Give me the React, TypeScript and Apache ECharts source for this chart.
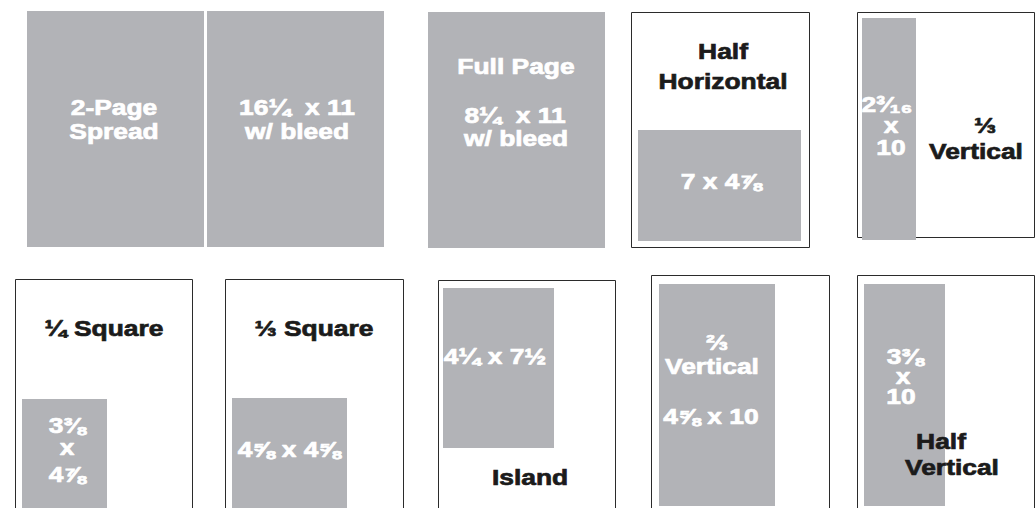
import React, { useEffect, useRef } from "react";
import * as echarts from "echarts";

// Ad formats shown on the sheet
const adNames = ["2-Page Spread", "Full Page", "Half Horizontal", "⅓ Vertical", "¼ Square", "⅓ Square", "Island", "⅔ Vertical", "Half Vertical"];
const adSizes = ["16¼ x 11 w/ bleed", "8¼ x 11 w/ bleed", "7 x 4⅞", "2³⁄₁₆ x 10", "3⅜ x 4⅞", "4⅝ x 4⅝", "4¼ x 7½", "4⅝ x 10", "3⅜ x 10"];

// Page outlines (sheet units): [x0, y0, x1, y1]
const pageFrames = [
  [631, 12, 809, 247],
  [857, 12, 1034, 237],
  [15, 279, 192, 530],
  [225, 279, 403, 530],
  [438, 280, 615, 530],
  [651, 275, 829, 530],
  [857, 275, 1034, 530],
];

// Ad areas (sheet units): [x0, y0, x1, y1]
const adBlocks = [
  [27, 11, 204, 247],
  [207, 11, 384, 247],
  [428, 12, 605, 248],
  [638, 130, 801, 241],
  [862, 18, 916, 240],
  [22, 399, 107, 530],
  [232, 398, 347, 530],
  [443, 288, 554, 448],
  [659, 284, 775, 506],
  [864, 284, 945, 506],
];

// Label lines: text, x, y, tone (1 = white on grey, 0 = black)
const labelTexts = [
  "2-Page", "Spread", "16¼  x 11", "w/ bleed",
  "Full Page", "8¼  x 11", "w/ bleed",
  "Half", "Horizontal", "7 x 4⅞",
  "2³⁄₁₆", "x", "10", "⅓", "Vertical",
  "¼ Square", "3⅜", "x", "4⅞",
  "⅓ Square", "4⅝ x 4⅝",
  "4¼ x 7½", "Island",
  "⅔", "Vertical", "4⅝ x 10",
  "3⅜", "x", "10", "Half", "Vertical",
];
const labelX = [
  114, 114, 297, 297,
  516, 515, 516,
  723, 723, 721,
  887, 891, 891, 985, 976,
  104, 67, 67, 67,
  314, 289,
  495, 530,
  717, 712, 711,
  905, 903, 901, 941, 952,
];
const labelY = [
  107, 131, 107, 131,
  66, 115, 138,
  51, 81, 181,
  104, 125, 147, 125, 151,
  328, 425, 447, 474,
  328, 449,
  356, 477,
  342, 366, 416,
  356, 376, 396, 441, 467,
];
const labelTone = [
  1, 1, 1, 1,
  1, 1, 1,
  0, 0, 1,
  1, 1, 1, 0, 0,
  0, 1, 1, 1,
  0, 1,
  1, 0,
  1, 1, 1,
  1, 1, 1, 0, 0,
];

const GREY = "#b2b3b7";
const FRAME = "#2b2b2b";
const INK = "#1b1b1b";
const FONT = 'bold 22px "Liberation Sans", Arial, Helvetica, sans-serif';

export default function App() {
  const ref = useRef<HTMLDivElement>(null);

  useEffect(() => {
    document.body.style.margin = "0";
    if (!ref.current) return;
    const chart = echarts.init(ref.current, undefined, { renderer: "svg" });

    const option: any = {
      animation: false,
      backgroundColor: "#ffffff",
      tooltip: { show: false },
      grid: { left: 0, right: 0, top: 0, bottom: 0 },
      xAxis: { type: "value", min: 0, max: 1036, show: false, splitLine: { show: false } },
      yAxis: { type: "value", min: 0, max: 508, inverse: true, show: false, splitLine: { show: false } },
      series: [
        {
          type: "custom",
          name: "pages",
          z: 1,
          clip: false,
          silent: true,
          data: pageFrames,
          renderItem: (params: any, api: any) => {
            const p0 = api.coord([api.value(0), api.value(1)]);
            const p1 = api.coord([api.value(2), api.value(3)]);
            return {
              type: "rect",
              shape: { x: p0[0] + 0.5, y: p0[1] + 0.5, width: p1[0] - p0[0], height: p1[1] - p0[1] },
              style: { fill: "#ffffff", stroke: FRAME, lineWidth: 1 },
            };
          },
        },
        {
          type: "custom",
          name: "ads",
          z: 2,
          clip: false,
          silent: true,
          data: adBlocks,
          renderItem: (params: any, api: any) => {
            const p0 = api.coord([api.value(0), api.value(1)]);
            const p1 = api.coord([api.value(2), api.value(3)]);
            return {
              type: "rect",
              shape: { x: p0[0], y: p0[1], width: p1[0] - p0[0], height: p1[1] - p0[1] },
              style: { fill: GREY },
            };
          },
        },
        {
          type: "custom",
          name: "labels",
          z: 3,
          clip: false,
          silent: true,
          data: labelTexts.map((t, i) => ({ name: t, value: [labelX[i], labelY[i], labelTone[i]] })),
          renderItem: (params: any, api: any) => {
            const p = api.coord([api.value(0), api.value(1)]);
            const white = api.value(2) === 1;
            const color = white ? "#ffffff" : INK;
            return {
              type: "text",
              x: p[0],
              y: p[1],
              scaleX: 1.2,
              style: {
                text: labelTexts[params.dataIndex],
                fill: color,
                stroke: color,
                lineWidth: 0.7,
                font: FONT,
                align: "center",
                verticalAlign: "middle",
              },
            };
          },
        },
      ],
    };
    chart.setOption(option);
    return () => chart.dispose();
  }, []);

  return <div ref={ref} style={{ width: 1036, height: 508 }} />;
}
